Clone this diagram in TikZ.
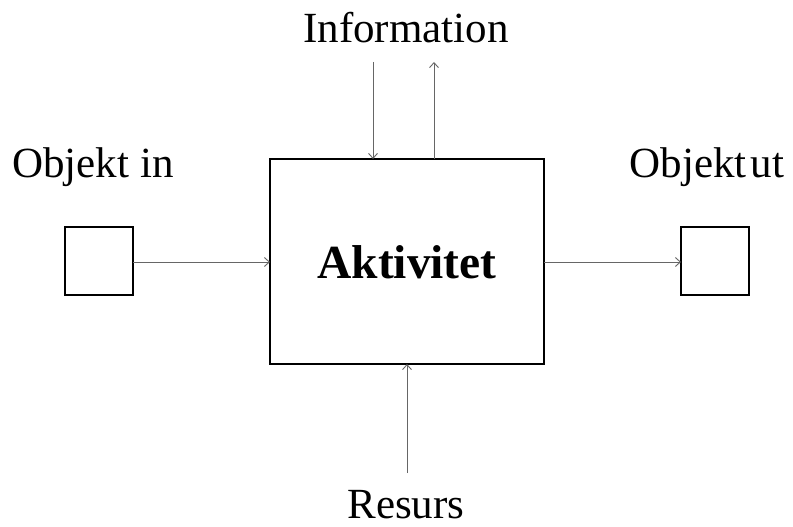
\documentclass[tikz,border=0pt]{standalone}
\usepackage{fontspec}
\setmainfont{Liberation Serif}
\usetikzlibrary{arrows.meta}
\begin{document}
\begin{tikzpicture}[x=1pt,y=-1pt,
  box/.style={draw=black,line width=2pt,inner sep=0pt,outer sep=0pt},
  conn/.style={draw=black!60,line width=0.9pt,-{Straight Barb[length=5pt,width=9pt]}},
  lbl/.style={anchor=base,inner sep=0pt,font=\fontsize{43}{50}\selectfont}]
\useasboundingbox (0,0) rectangle (793,527);
\node[box,minimum width=274pt,minimum height=205pt] (act) at (407,261.5) {};
\node[anchor=center,inner sep=0pt,font=\fontsize{47.5}{52}\selectfont\bfseries] at (407,262) {Aktivitet};
\node[box,minimum width=68pt,minimum height=68pt] (in) at (99,261) {};
\node[box,minimum width=68pt,minimum height=68pt] (out) at (715,261) {};
\node[lbl] (tin) at (93,177) {Objekt in};
\node[lbl] (tout) at (707,177) {Objekt\kern4pt ut};
\node[lbl] (tinfo) at (406,43) {Information};
\node[lbl] (tres) at (406,518) {Resurs};
\coordinate (i1) at (373,62);
\coordinate (i2) at (434,62);
\coordinate (r1) at (407,473);
\draw[conn] (in.east |- 0,262) -- (act.west |- 0,262);
\draw[conn] (act.east |- 0,262) -- (out.west |- 0,262);
\draw[conn] (i1) -- (i1 |- act.north);
\draw[conn] (i2 |- act.north) -- (i2);
\draw[conn] (r1) -- (r1 |- act.south);
\end{tikzpicture}
\end{document}
